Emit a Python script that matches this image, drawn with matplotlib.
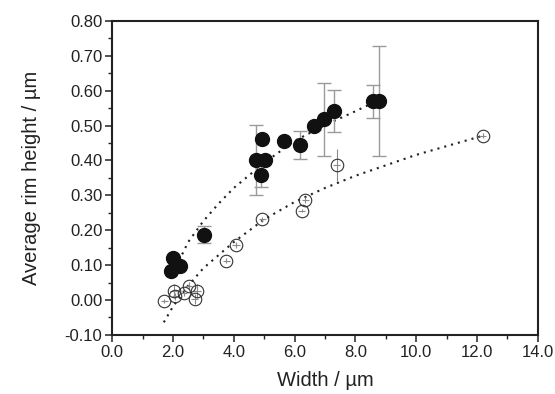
import numpy as np
import matplotlib
matplotlib.use("Agg")
import matplotlib.pyplot as plt
from matplotlib.ticker import MultipleLocator, FormatStrFormatter

plt.rcParams['font.family'] = ['Liberation Sans', 'DejaVu Sans']

# filled circles: width, height, height error
filled_x = [1.95, 2.0, 2.22, 3.01, 4.74, 4.91, 4.94, 5.04, 5.64, 6.17, 6.65, 6.98, 7.29, 8.58, 8.77]
filled_y = [0.083, 0.119, 0.097, 0.187, 0.401, 0.359, 0.462, 0.401, 0.456, 0.445, 0.498, 0.518, 0.541, 0.569, 0.571]
filled_err = [0.0, 0.0, 0.0, 0.024, 0.10, 0.035, 0.0, 0.0, 0.0, 0.04, 0.01, 0.105, 0.06, 0.047, 0.157]

# open circles
open_x = [1.72, 2.02, 2.08, 2.35, 2.52, 2.71, 2.79, 3.76, 4.07, 4.94, 6.24, 6.36, 7.39, 12.19]
open_y = [-0.003, 0.026, 0.011, 0.021, 0.041, 0.003, 0.026, 0.113, 0.158, 0.231, 0.256, 0.287, 0.387, 0.471]
open_err = [0.006, 0.02, 0.01, 0.01, 0.01, 0.015, 0.02, 0.008, 0.008, 0.008, 0.005, 0.008, 0.045, 0.008]

# dotted trend lines
fit1_x = [2.0, 2.5, 3.0, 3.5, 4.0, 5.0, 6.0, 7.0, 8.0, 8.6]
fit1_y = [0.076, 0.166, 0.226, 0.276, 0.321, 0.393, 0.456, 0.501, 0.541, 0.566]
fit2_x = [1.7, 2.0, 2.5, 3.0, 4.0, 5.0, 6.0, 7.0, 8.0, 9.0, 10.0, 11.0, 12.2]
fit2_y = [-0.064, -0.019, 0.041, 0.091, 0.166, 0.231, 0.281, 0.321, 0.356, 0.386, 0.416, 0.441, 0.471]

fig = plt.figure(figsize=(5.55, 3.94), dpi=100)
ax = fig.add_axes([0.202, 0.150, 0.767, 0.797])

ax.plot(fit1_x, fit1_y, linestyle=(0, (1, 2.4)), color='#222222', lw=1.5, zorder=2)
ax.plot(fit2_x, fit2_y, linestyle=(0, (1, 2.4)), color='#222222', lw=1.5, zorder=2)

ax.errorbar(filled_x, filled_y, yerr=filled_err, fmt='none', ecolor='#9a9a9a',
            elinewidth=1, capsize=5, capthick=1, zorder=3)
ax.errorbar(open_x, open_y, yerr=open_err, xerr=0.12, fmt='none', ecolor='#8a8a8a',
            elinewidth=0.8, capsize=0, zorder=3)
ax.plot(filled_x, filled_y, 'o', ms=10, mfc='#111111', mec='#111111', zorder=4)
ax.plot(open_x, open_y, 'o', ms=9.0, mfc='none', mec='#333333', mew=0.8, zorder=4)

ax.set_xlim(0, 14)
ax.set_ylim(-0.10, 0.80)
ax.xaxis.set_major_locator(MultipleLocator(2))
ax.xaxis.set_minor_locator(MultipleLocator(1))
ax.yaxis.set_major_locator(MultipleLocator(0.1))
ax.yaxis.set_minor_locator(MultipleLocator(0.05))
ax.xaxis.set_major_formatter(FormatStrFormatter('%.1f'))
ax.yaxis.set_major_formatter(FormatStrFormatter('%.2f'))

for s in ax.spines.values():
    s.set_linewidth(1.5)
    s.set_color('#222222')
ax.tick_params(which='major', direction='out', length=5, width=1.1, labelsize=12,
               colors='#222222', top=False, right=False, pad=2)
ax.tick_params(which='minor', direction='out', length=3, width=1.0, colors='#222222',
               top=False, right=False)

ax.set_xlabel('Width / µm', fontsize=14.5, color='#222222', labelpad=8)
ax.set_ylabel('Average rim height / µm', fontsize=14.5, color='#222222', labelpad=17)

fig.savefig('out.png', dpi=100)
